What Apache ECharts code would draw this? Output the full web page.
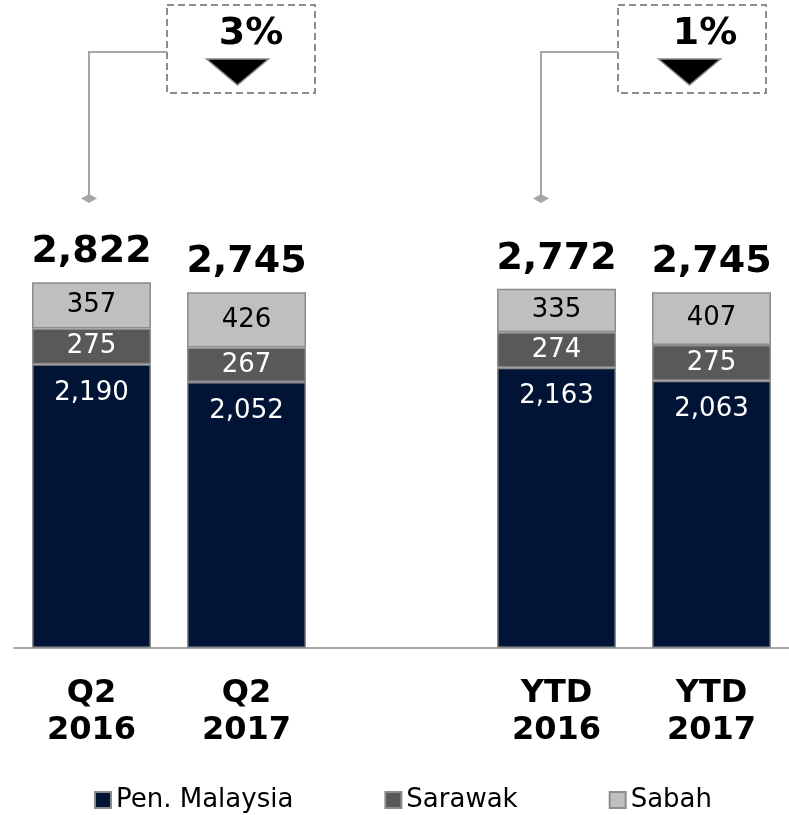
<!DOCTYPE html>
<html>
<head>
<meta charset="utf-8">
<script src="https://cdn.jsdelivr.net/npm/echarts@6/dist/echarts.min.js"></script>
<style>
html,body{margin:0;padding:0;background:#fff;}
#chart{width:789px;height:815px;}
</style>
</head>
<body>
<div id="chart"></div>
<script>
var categories = ['Q2\n2016', 'Q2\n2017', '', 'YTD\n2016', 'YTD\n2017'];
var penMalaysia = [2190, 2052, '-', 2163, 2063];
var sarawak = [275, 267, '-', 274, 275];
var sabah = [357, 426, '-', 335, 407];
var totals = [2822, 2745, '-', 2772, 2745];
var changeLabels = ['3%', '1%'];

var FONT = '"DejaVu Sans", Verdana, sans-serif';
var fmt = function (v) { return Number(v).toLocaleString('en-US'); };

var chart = echarts.init(document.getElementById('chart'));

function callout(boxX, textX, triX, connX, pct) {
  return [
    { type: 'rect', shape: { x: boxX, y: 5, width: 148, height: 88 },
      style: { fill: 'none', stroke: '#8c8c8c', lineWidth: 2, lineDash: [7, 4] } },
    { type: 'text', x: textX, y: 34,
      style: { text: pct, font: 'bold 38px ' + FONT, fill: '#000', textAlign: 'center', textVerticalAlign: 'middle' } },
    { type: 'polygon', shape: { points: [[triX - 31, 59], [triX + 31, 59], [triX, 85]] },
      style: { fill: '#000', stroke: '#8c8c8c', lineWidth: 1.5 } },
    { type: 'polyline', shape: { points: [[boxX, 52], [connX, 52], [connX, 198]] },
      style: { fill: null, stroke: '#a6a6a6', lineWidth: 2 } },
    { type: 'polygon', shape: { points: [[connX - 8, 198.5], [connX, 194], [connX + 8, 198.5], [connX, 203]] },
      style: { fill: '#a6a6a6', stroke: null } }
  ];
}

var segLabel = function (color, pos, dist) {
  return {
    show: true, position: pos, distance: dist,
    color: color, fontSize: 26, fontFamily: FONT,
    formatter: function (p) { return fmt(p.value); }
  };
};

chart.setOption({
  animation: false,
  backgroundColor: '#fff',
  grid: { left: 14, right: -3, top: -2, bottom: 167, containLabel: false },
  legend: {
    data: ['Pen. Malaysia', 'Sarawak', 'Sabah'],
    left: 94, top: 787, padding: 0,
    itemWidth: 16, itemHeight: 16, itemGap: 91,
    icon: 'rect',
    textStyle: { fontSize: 26, fontFamily: FONT, color: '#000' }
  },
  xAxis: {
    type: 'category',
    data: categories,
    axisTick: { show: false },
    axisLine: { lineStyle: { color: '#a6a6a6', width: 2 } },
    axisLabel: { interval: 0, margin: 27, fontSize: 32, fontWeight: 'bold', fontFamily: FONT, color: '#000', lineHeight: 37 }
  },
  yAxis: { type: 'value', min: 0, max: 5000, show: false, splitLine: { show: false } },
  series: [
    { name: 'Pen. Malaysia', type: 'bar', stack: 'a', barWidth: 119, data: penMalaysia,
      itemStyle: { color: '#011435', borderColor: '#8c8c8c', borderWidth: 1.5 },
      label: segLabel('#fff', 'insideTop', 16) },
    { name: 'Sarawak', type: 'bar', stack: 'a', barWidth: 119, data: sarawak,
      itemStyle: { color: '#595959', borderColor: '#8c8c8c', borderWidth: 1.5 },
      label: segLabel('#fff', 'inside', 0) },
    { name: 'Sabah', type: 'bar', stack: 'a', barWidth: 119, data: sabah,
      itemStyle: { color: '#bfbfbf', borderColor: '#8c8c8c', borderWidth: 1.5 },
      label: segLabel('#000', 'inside', 0) },
    { name: 'Total', type: 'bar', barWidth: 119, barGap: '-100%', data: totals, z: 1,
      itemStyle: { color: 'rgba(0,0,0,0)' }, silent: true,
      label: { show: true, position: 'top', distance: 11, color: '#000', fontSize: 38, fontWeight: 'bold', fontFamily: FONT,
        formatter: function (p) { return fmt(p.value); } } }
  ],
  graphic: callout(167, 251, 237.5, 89, changeLabels[0]).concat(callout(618, 705, 689.5, 541, changeLabels[1]))
});
</script>
</body>
</html>
